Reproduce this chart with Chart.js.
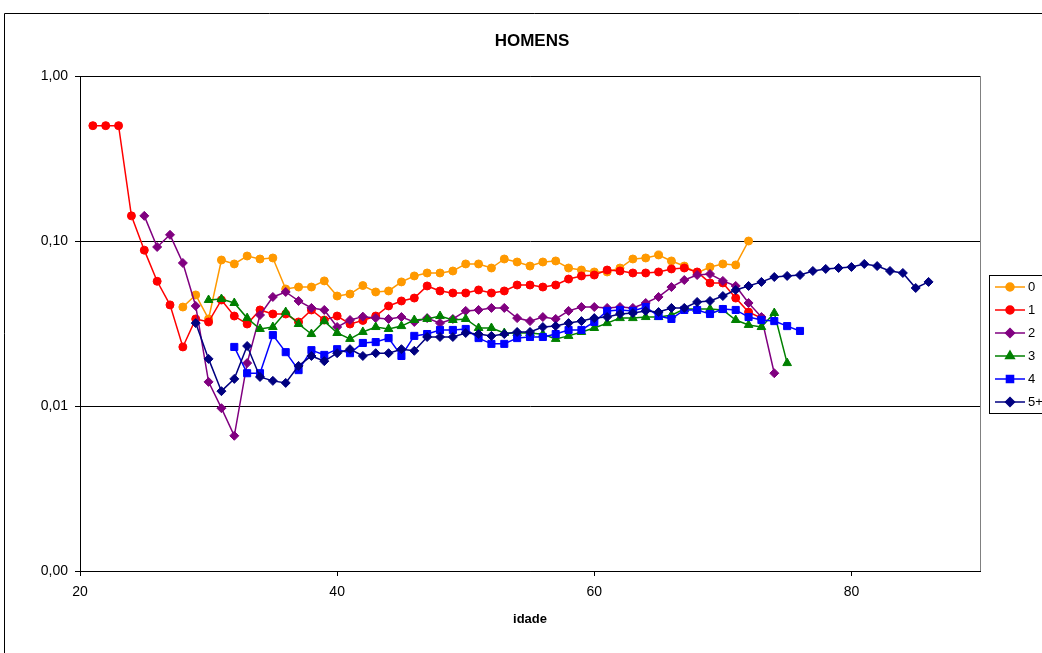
<!DOCTYPE html>
<html>
<head>
<meta charset="utf-8">
<script src="https://cdn.jsdelivr.net/npm/chart.js"></script>
<style>
  html, body { margin: 0; padding: 0; background: #fff; overflow: hidden; }
  #wrap { width: 1064px; height: 653px; }
</style>
</head>
<body>
<div id="wrap"><canvas id="chart" width="1064" height="653"></canvas></div>
<script>
// legenda e idade inicial de cada serie
const seriesNames = ["0", "1", "2", "3", "4", "5+"];
const firstAge = [28, 21, 25, 30, 32, 29];
const xTicks = [20, 40, 60, 80];
const yTicks = [0.001, 0.01, 0.1, 1];

const rate0 = [0.0398, 0.0471, 0.0337, 0.0767, 0.0726, 0.0811, 0.0778, 0.0789, 0.0512, 0.0526,
  0.0526, 0.0573, 0.0464, 0.0477, 0.0537, 0.0491, 0.0498, 0.0565, 0.0614, 0.0640,
  0.0640, 0.0658, 0.0726, 0.0726, 0.0686, 0.0778, 0.0746, 0.0705, 0.0746, 0.0757,
  0.0686, 0.0667, 0.0649, 0.0649, 0.0686, 0.0778, 0.0789, 0.0823, 0.0757, 0.0705,
  0.0640, 0.0696, 0.0726, 0.0716, 0.100];

const rate1 = [0.50, 0.50, 0.50, 0.142, 0.088, 0.057, 0.041, 0.0228, 0.0337, 0.0323,
  0.0439, 0.0351, 0.0314, 0.0382, 0.0361, 0.0361, 0.0323, 0.0382, 0.0332, 0.0351,
  0.0314, 0.0330, 0.0351, 0.0404, 0.0433, 0.0451, 0.0534, 0.0498, 0.0484, 0.0484,
  0.0505, 0.0484, 0.0498, 0.0541, 0.0541, 0.0526, 0.0541, 0.0588, 0.0614, 0.0622,
  0.0667, 0.0658, 0.0640, 0.0640, 0.0649, 0.0677, 0.0686, 0.0649, 0.0557, 0.0557,
  0.0451, 0.0371, 0.0341];

const rate2 = [0.142, 0.092, 0.109, 0.0736, 0.0404, 0.0140, 0.0097, 0.0066, 0.0182, 0.0356,
  0.0458, 0.0491, 0.0433, 0.0393, 0.0382, 0.0301, 0.0332, 0.0348, 0.0341, 0.0337,
  0.0346, 0.0323, 0.0341, 0.0318, 0.0337, 0.0377, 0.0382, 0.0393, 0.0393, 0.0341,
  0.0327, 0.0346, 0.0337, 0.0377, 0.0398, 0.0398, 0.0393, 0.0398, 0.0393, 0.0421,
  0.0458, 0.0526, 0.0580, 0.0622, 0.0631, 0.0573, 0.0534, 0.0421, 0.0346, 0.0158];

const rate3 = [0.0439, 0.0445, 0.0421, 0.0341, 0.0293, 0.0301, 0.0371, 0.0314, 0.0273, 0.0327,
  0.0277, 0.0255, 0.0281, 0.0301, 0.0293, 0.0305, 0.0332, 0.0337, 0.0351, 0.0332,
  0.0337, 0.0297, 0.0297, 0.0277, 0.0277, 0.0277, 0.0272, 0.0255, 0.0266, 0.0281,
  0.0297, 0.0318, 0.0341, 0.0341, 0.0346, 0.0346, 0.0355, 0.0387, 0.0387, 0.0387,
  0.0382, 0.0332, 0.0310, 0.0301, 0.0366, 0.0182];

const rate4 = [0.0228, 0.0158, 0.0158, 0.0269, 0.0212, 0.0165, 0.0218, 0.0204, 0.0221, 0.0209,
  0.0241, 0.0244, 0.0258, 0.0201, 0.0266, 0.0273, 0.0289, 0.0289, 0.0293, 0.0258,
  0.0238, 0.0238, 0.0258, 0.0262, 0.0262, 0.0273, 0.0289, 0.0289, 0.0323, 0.0377,
  0.0382, 0.0377, 0.0398, 0.0351, 0.0337, 0.0382, 0.0382, 0.0361, 0.0387, 0.0382,
  0.0346, 0.0332, 0.0327, 0.0305, 0.0285];

const rate5 = [0.0318, 0.0193, 0.0123, 0.0146, 0.0231, 0.0150, 0.0142, 0.0138, 0.0175, 0.0201,
  0.0187, 0.0209, 0.0221, 0.0201, 0.0209, 0.0209, 0.0221, 0.0216, 0.0262, 0.0262,
  0.0262, 0.0277, 0.0273, 0.0266, 0.0273, 0.0281, 0.0281, 0.0301, 0.0305, 0.0318,
  0.0327, 0.0341, 0.0346, 0.0361, 0.0366, 0.0377, 0.0371, 0.0393, 0.0393, 0.0427,
  0.0433, 0.0464, 0.0505, 0.0534, 0.0565, 0.0605, 0.0614, 0.0622, 0.0658, 0.0677,
  0.0686, 0.0696, 0.0726, 0.0705, 0.0658, 0.0640, 0.0519, 0.0565];

const allRates = [rate0, rate1, rate2, rate3, rate4, rate5];
const colors = ["#FF9900", "#FF0000", "#800080", "#008000", "#0000FF", "#000080"];
const markers = ["circle", "circle", "rectRot", "triangle", "rect", "rectRot"];
const markerSize = [4, 4, 4.5, 5, 5, 4.5];

const FONT = '"Liberation Sans", Arial, sans-serif';

const datasets = allRates.map((rates, i) => ({
  label: seriesNames[i],
  data: rates.map((v, k) => ({ x: firstAge[i] + k, y: v })),
  borderColor: colors[i],
  backgroundColor: colors[i],
  borderWidth: 1.5,
  pointStyle: markers[i],
  pointRadius: markerSize[i],
  pointBorderWidth: 1,
  pointBorderColor: colors[i],
  pointBackgroundColor: colors[i],
  tension: 0,
  order: 5 - i
}));

// moldura do grafico e borda da area de plotagem
const framePlugin = {
  id: "frame",
  beforeDraw(chart) {
    const ctx = chart.ctx;
    const a = chart.chartArea;
    ctx.save();
    ctx.fillStyle = "#fff";
    ctx.fillRect(0, 0, chart.width, chart.height);
    ctx.strokeStyle = "#000";
    ctx.lineWidth = 1;
    ctx.beginPath();
    ctx.moveTo(4.5, chart.height + 5);
    ctx.lineTo(4.5, 13.5);
    ctx.lineTo(chart.width + 5, 13.5);
    ctx.stroke();
    ctx.strokeStyle = "#808080";
    ctx.strokeRect(Math.round(a.left) + 0.5, Math.round(a.top) + 0.5,
      Math.round(a.right - a.left), Math.round(a.bottom - a.top));
    ctx.restore();
  }
};

// legenda estilo excel
const legendPlugin = {
  id: "boxLegend",
  afterDraw(chart) {
    const ctx = chart.ctx;
    const boxX = 989, boxY = 275, boxW = 72, boxH = 138;
    ctx.save();
    ctx.fillStyle = "#fff";
    ctx.fillRect(boxX, boxY, boxW, boxH);
    ctx.strokeStyle = "#000";
    ctx.lineWidth = 1;
    ctx.strokeRect(boxX + 0.5, boxY + 0.5, boxW, boxH);
    chart.data.datasets.forEach((ds, i) => {
      const y = 287 + i * 23;
      ctx.strokeStyle = ds.borderColor;
      ctx.lineWidth = 1.5;
      ctx.beginPath();
      ctx.moveTo(995, y);
      ctx.lineTo(1025, y);
      ctx.stroke();
      ctx.fillStyle = ds.backgroundColor;
      Chart.helpers.drawPoint(ctx, {
        pointStyle: ds.pointStyle,
        radius: ds.pointRadius,
        rotation: 0,
        borderWidth: 1
      }, 1010, y);
      ctx.fillStyle = "#000";
      ctx.font = "13px " + FONT;
      ctx.textBaseline = "middle";
      ctx.textAlign = "left";
      ctx.fillText(ds.label, 1028, y);
    });
    ctx.restore();
  }
};

new Chart(document.getElementById("chart"), {
  type: "line",
  data: { datasets },
  options: {
    responsive: false,
    animation: false,
    layout: { padding: 0 },
    plugins: {
      legend: { display: false },
      tooltip: { enabled: false },
      title: {
        display: true,
        text: "HOMENS",
        color: "#000",
        font: { family: FONT, size: 17, weight: "bold", lineHeight: 1.2 },
        padding: { top: 31, bottom: 24.6 }
      }
    },
    scales: {
      x: {
        type: "linear",
        position: "bottom",
        min: 20,
        max: 90,
        afterBuildTicks: s => { s.ticks = xTicks.map(v => ({ value: v })); },
        afterFit: s => { s.height = 82; },
        grid: { drawOnChartArea: false, drawTicks: true, tickLength: 5, color: "#000" },
        border: { display: true, color: "#000", width: 1 },
        ticks: { color: "#000", padding: 8, font: { family: FONT, size: 14 } },
        title: {
          display: true,
          text: "idade",
          color: "#000",
          font: { family: FONT, size: 13, weight: "bold", lineHeight: 1.2 },
          padding: { top: 26, bottom: 26 }
        }
      },
      y: {
        type: "logarithmic",
        position: "left",
        min: 0.001,
        max: 1,
        afterBuildTicks: s => { s.ticks = yTicks.map(v => ({ value: v })); },
        afterFit: s => { s.width = 80; },
        grid: { drawOnChartArea: true, drawTicks: true, tickLength: 5, color: "#000" },
        border: { display: true, color: "#000", width: 1 },
        ticks: {
          color: "#000",
          padding: 7,
          font: { family: FONT, size: 14 },
          callback: v => Number(v).toFixed(2).replace(".", ",")
        }
      },
      yRight: {
        type: "linear",
        position: "right",
        display: true,
        afterFit: s => { s.width = 84; },
        grid: { display: false },
        border: { display: false },
        ticks: { display: false }
      }
    }
  },
  plugins: [framePlugin, legendPlugin]
});
</script>
</body>
</html>
